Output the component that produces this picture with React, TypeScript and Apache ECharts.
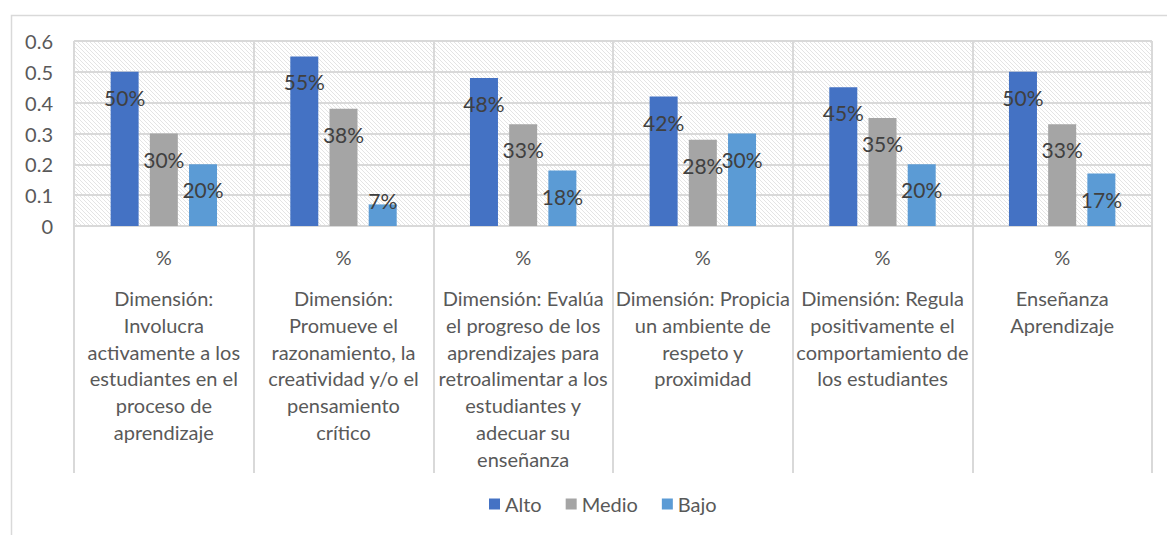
import React, { useEffect, useRef } from "react";
import * as echarts from "echarts";

const categories = [
  "Dimensión:\nInvolucra\nactivamente a los\nestudiantes en el\nproceso de\naprendizaje",
  "Dimensión:\nPromueve el\nrazonamiento, la\ncreatividad y/o el\npensamiento\ncrítico",
  "Dimensión: Evalúa\nel progreso de los\naprendizajes para\nretroalimentar a los\nestudiantes y\nadecuar su\nenseñanza",
  "Dimensión: Propicia\nun ambiente de\nrespeto y\nproximidad",
  "Dimensión: Regula\npositivamente el\ncomportamiento de\nlos estudiantes",
  "Enseñanza\nAprendizaje",
];
const unitLabel = "%";
const seriesNames = ["Alto", "Medio", "Bajo"];
const alto = [0.5, 0.55, 0.48, 0.42, 0.45, 0.5];
const medio = [0.3, 0.38, 0.33, 0.28, 0.35, 0.33];
const bajo = [0.2, 0.07, 0.18, 0.3, 0.2, 0.17];
const colors = ["#4472C4", "#A5A5A5", "#5B9BD5"];

const FONT = "Lato";

function makeHatch() {
  const c = document.createElement("canvas");
  c.width = 8;
  c.height = 8;
  const ctx = c.getContext("2d")!;
  ctx.fillStyle = "#ffffff";
  ctx.fillRect(0, 0, 8, 8);
  ctx.strokeStyle = "#e4e4e4";
  ctx.lineWidth = 1;
  for (let k = -8; k <= 8; k += 4) {
    ctx.beginPath();
    ctx.moveTo(k, 0);
    ctx.lineTo(k + 8, 8);
    ctx.stroke();
  }
  return c;
}

export default function App() {
  const ref = useRef<HTMLDivElement>(null);
  useEffect(() => {
    if (!ref.current) return;
    const chart = echarts.init(ref.current, undefined, { renderer: "svg" });
    const hatch = makeHatch();
    const mkData = (arr: number[]) =>
      arr.map((v) =>
        v < 0.1
          ? { value: v, label: { position: "top", distance: -7 } }
          : { value: v }
      );
    const mkSeries = (name: string, arr: number[], color: string) => ({
      name,
      type: "bar",
      data: mkData(arr),
      barWidth: 28,
      barGap: "40%",
      itemStyle: { color },
      label: {
        show: true,
        position: "insideTop",
        distance: 15,
        color: "#404040",
        fontFamily: FONT,
        fontSize: 21,
        formatter: (p: any) => Math.round(p.value * 100) + "%",
      },
    });
    chart.setOption({
      animation: false,
      textStyle: { fontFamily: FONT },
      graphic: [
        {
          type: "rect",
          left: 9,
          top: 13,
          shape: { width: 1300, height: 700 },
          style: { fill: "none", stroke: "#d9d9d9", lineWidth: 1.5 },
          silent: true,
        },
      ],
      grid: {
        left: 74,
        right: 15,
        top: 41,
        bottom: 309,
        show: true,
        borderWidth: 0,
        backgroundColor: {
          image: hatch,
          repeat: "repeat",
          imageWidth: 8,
          imageHeight: 8,
        } as any,
      },
      legend: {
        data: seriesNames,
        top: 489,
        left: 484,
        icon: "rect",
        itemWidth: 11,
        itemHeight: 11,
        itemGap: 24,
        textStyle: { color: "#595959", fontFamily: FONT, fontSize: 20 },
      },
      xAxis: {
        type: "category",
        data: categories,
        axisLine: { show: true, lineStyle: { color: "#d9d9d9", width: 2 } },
        axisTick: {
          show: true,
          length: 247,
          lineStyle: { color: "#d9d9d9", width: 2 },
        },
        splitLine: { show: true, lineStyle: { color: "#d9d9d9", width: 2 } },
        axisLabel: {
          interval: 0,
          margin: 2,
          color: "#595959",
          fontFamily: FONT,
          fontSize: 20,
          lineHeight: 26.7,
          align: "center",
          verticalAlign: "top",
          formatter: (v: string) => "{a|" + unitLabel + "}\n" + v,
          rich: {
            a: {
              lineHeight: 57,
              fontSize: 20,
              color: "#595959",
              fontFamily: FONT,
            },
          },
        },
      },
      yAxis: {
        type: "value",
        min: 0,
        max: 0.6,
        interval: 0.1,
        axisLine: { show: false },
        axisTick: { show: false },
        splitLine: { show: true, lineStyle: { color: "#d9d9d9", width: 2 } },
        axisLabel: {
          margin: 21,
          color: "#595959",
          fontFamily: FONT,
          fontSize: 20,
          formatter: (v: number) => String(Math.round(v * 10) / 10),
        },
      },
      series: [
        mkSeries(seriesNames[0], alto, colors[0]),
        mkSeries(seriesNames[1], medio, colors[1]),
        mkSeries(seriesNames[2], bajo, colors[2]),
      ],
    });
    return () => chart.dispose();
  }, []);
  return (
    <div
      ref={ref}
      style={{ position: "absolute", left: 0, top: 0, width: 1167, height: 535 }}
    />
  );
}
